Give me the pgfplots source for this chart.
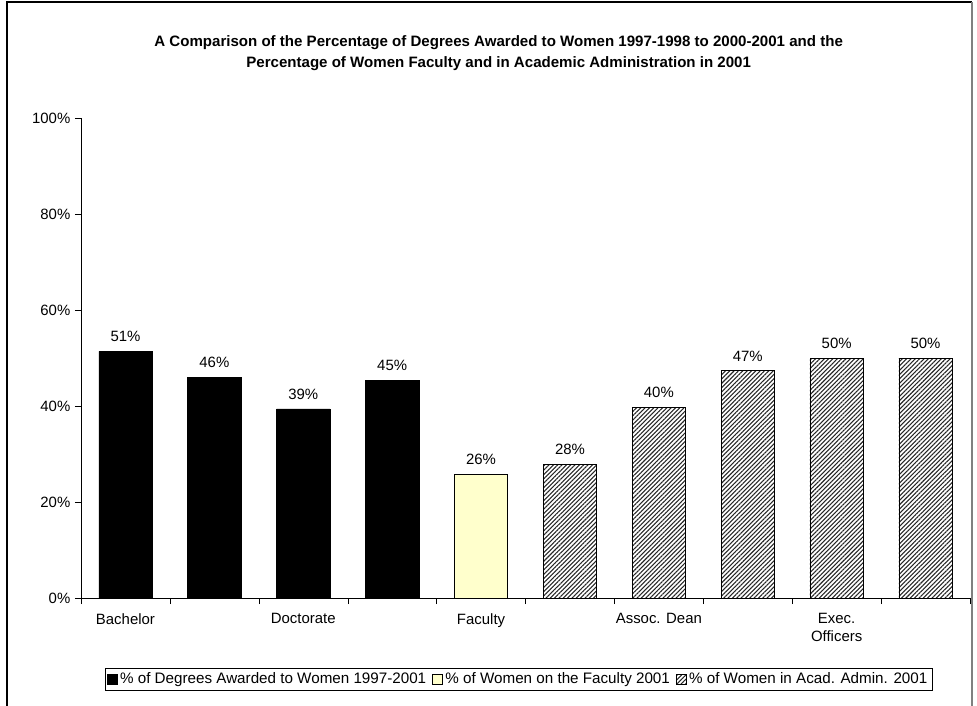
\documentclass[border=0pt]{standalone}
\usepackage{fontspec}
\setmainfont{Liberation Sans}
\usepackage{pgfplots}
\pgfplotsset{compat=1.18}
\usetikzlibrary{patterns,patterns.meta}
\definecolor{lightyel}{RGB}{255,255,204}
\pgfplotsset{sqlegend/.style={legend image code/.code={\draw[##1,draw=black] (0pt,-3.75pt) rectangle (7.5pt,3.75pt);}}}
\begin{document}
\begin{tikzpicture}
\useasboundingbox (0pt,0pt) rectangle (732.75pt,-529.5pt);
\draw[black, line width=0.8pt] (5.25pt,-545pt) -- (5.25pt,-1.5pt) -- (729pt,-1.5pt);
\draw[gray, line width=0.8pt] (729pt,-1.5pt) -- (729pt,-545pt);
\node[align=center, font=\bfseries\fontsize{11.3}{15.75}\selectfont] at (374pt,-39.6pt)
 {A Comparison of the Percentage of Degrees Awarded to Women 1997-1998 to 2000-2001 and the\\
  Percentage of Women Faculty and in Academic Administration in 2001};
\begin{axis}[
  at={(60.75pt,-448.5pt)}, anchor=south west,
  scale only axis, width=666.75pt, height=360pt,
  ymin=0, ymax=100, xmin=-0.5, xmax=9.5,
  axis x line*=bottom, axis y line*=left,
  axis line style={-, black},
  ytick={0,20,...,100},
  yticklabel={\pgfmathprintnumber{\tick}\%},
  xtick={0,2,4,6,8},
  xticklabels={Bachelor,Doctorate,Faculty,Assoc. Dean,{Exec.\\Officers}},
  xticklabel style={align=center, font=\fontsize{11.2}{13.5}\selectfont, yshift=-3.5pt},
  yticklabel style={font=\fontsize{11.2}{13}\selectfont},
  major x tick style={draw=none},
  minor xtick={-0.5,0.5,...,9.5},
  tick align=outside, tick pos=left,
  major tick length=4.5pt, minor tick length=4.5pt,
  tick style={black},
  /pgf/number format/assume math mode=true,
  ybar, bar width=0.6,
  nodes near coords={\pgfmathprintnumber[fixed,precision=0]{\pgfplotspointmeta}\%},
  every node near coord/.append style={font=\fontsize{11.2}{13}\selectfont, yshift=3.5pt, black},
  legend columns=-1,
  legend style={at={(0.4921,-0.169)}, anchor=center, draw=black,
    font=\fontsize{11.4}{13}\selectfont, inner sep=1.5pt,
    /tikz/every even column/.append style={column sep=2.5pt}},
]
\addplot[fill=black, draw=black, bar shift=0pt, sqlegend]
  coordinates {(0,51.4) (1,46.0) (2,39.4) (3,45.4)};
\addlegendentry{\% of Degrees Awarded to Women 1997-2001}
\addplot[fill=lightyel, draw=black, bar shift=0pt, sqlegend]
  coordinates {(4,25.8)};
\addlegendentry{\% of Women on the Faculty 2001}
\addplot[pattern={Lines[angle=45,distance=2.3pt,line width=0.8pt]}, pattern color=black!85, draw=black, bar shift=0pt, sqlegend]
  coordinates {(5,27.9) (6,39.7) (7,47.4) (8,50) (9,50)};
\addlegendentry{\% of Women in Acad. Admin. 2001}
\end{axis}
\end{tikzpicture}
\end{document}
